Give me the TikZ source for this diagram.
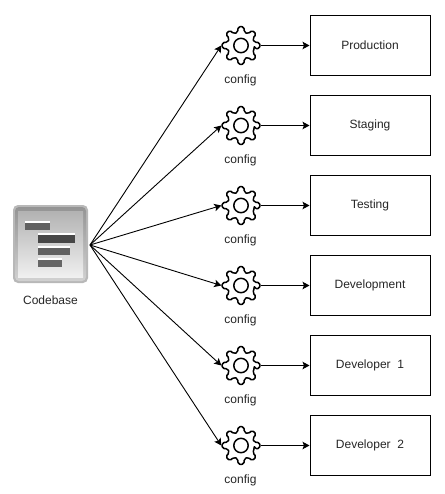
\documentclass[tikz,border=0pt]{standalone}
\usepackage{fontspec}
\setmainfont{Liberation Sans}
\usetikzlibrary{arrows.meta}
\tikzset{
  envbox/.style={draw=black,line width=1pt,minimum width=120pt,minimum height=60pt,inner sep=0pt,font=\fontsize{12pt}{14pt}\selectfont,text=black!85},
  gearnode/.style={circle,minimum size=39pt,inner sep=0pt},
  caption/.style={font=\fontsize{12pt}{14pt}\selectfont,text=black!85,inner sep=0pt},
  arrowline/.style={draw=black,line width=0.9pt,-{Stealth[length=7pt,width=7.5pt,inset=1.5pt]}},
  gearline/.style={draw=black,line width=1.5pt,line join=round},
}
\newcommand{\geargl}[1]{%
  \draw[gearline,rounded corners=1.8pt] ([shift={(-13:13.7pt)}]#1)
    \foreach \a in {0,45,...,315} {
      -- ([shift={(\a-13:13.7pt)}]#1) -- ([shift={(\a-9:19pt)}]#1) -- ([shift={(\a+9:19pt)}]#1) -- ([shift={(\a+13:13.7pt)}]#1)
    } -- cycle;
  \draw[gearline] (#1) circle (7.2pt);
}
\begin{document}
\begin{tikzpicture}[x=1pt,y=-1pt]
\useasboundingbox (0,0) rectangle (444,494);
\fill[white] (0,0) rectangle (444,494);
% Codebase icon
\node[minimum width=76pt,minimum height=78pt,inner sep=0pt] (code) at (51,244) {};
\fill[black!28,rounded corners=5pt] (13,205) rectangle (88,283);
\shade[top color=black!42,bottom color=black!18,rounded corners=4pt] (15,207) rectangle (86,281);
\shade[top color=black!30,bottom color=black!6] (18,211) rectangle (83,277);
\fill[white] (25,221) rectangle (50,223);
\fill[black!62] (25,223) rectangle (50,230);
\fill[white] (38,233) rectangle (75,235);
\fill[black!72] (38,235) rectangle (75,243);
\fill[white] (38,246) rectangle (70,248);
\fill[black!62] (38,248) rectangle (70,255);
\fill[white] (38,258) rectangle (62,260);
\fill[black!60] (38,260) rectangle (62,267);
\node[caption] (codelabel) at (50.5,300) {Codebase};
\foreach \i/\name/\yy in {1/Production/45.5,2/Staging/125.5,3/Testing/205.5,4/Development/285.5,5/{Developer\ \ 1}/365.5,6/{Developer\ \ 2}/445.5}{
  \node[gearnode] (g\i) at (241,\yy) {};
  \geargl{g\i.center}
  \node[caption] (c\i) at (240.5,\yy+34.5) {config};
  \node[envbox] (b\i) at (370,\yy) {\raisebox{-0.8pt}{\name}};
  \coordinate (src) at (90,245);
  \draw[arrowline] (src) -- (g\i.west);
  \draw[arrowline] (g\i.east) -- (b\i.west);
}
\end{tikzpicture}
\end{document}
